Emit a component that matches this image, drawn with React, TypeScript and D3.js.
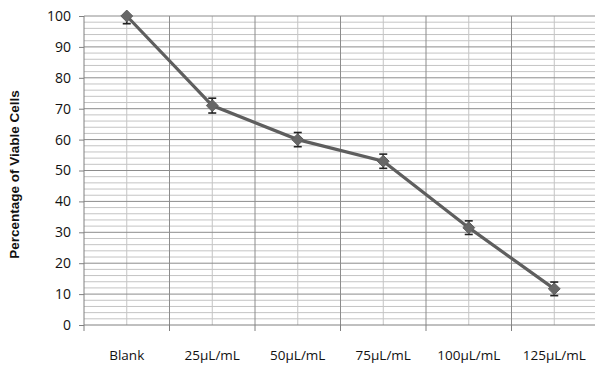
import { useEffect, useRef } from "react";
import * as d3 from "d3";

const categories = ["Blank", "25µL/mL", "50µL/mL", "75µL/mL", "100µL/mL", "125µL/mL"];
const viability = [100, 71, 60, 53, 31.5, 11.7];
const errors = [2.5, 2.4, 2.3, 2.3, 2.2, 2.2];
const yTicks = [0, 10, 20, 30, 40, 50, 60, 70, 80, 90, 100];

const W = 595;
const H = 365;

function buildChart(svgEl: SVGSVGElement) {
  const margin = { top: 16, right: -2, bottom: 40, left: 84 };
  const innerW = W - margin.left - margin.right;
  const innerH = H - margin.top - margin.bottom;

  const svg = d3.select(svgEl);
  svg.selectAll("*").remove();

  const g = svg.append("g").attr("transform", `translate(${margin.left},${margin.top})`);

  const x = d3.scaleBand<string>().domain(categories).range([0, innerW]);
  const y = d3.scaleLinear().domain([0, 100]).range([innerH, 0]);

  // minor horizontal grid (every 2)
  const minor = d3.range(2, 100, 2).filter(v => v % 10 !== 0);
  g.append("g").selectAll("line").data(minor).join("line")
    .attr("x1", 0).attr("x2", innerW)
    .attr("y1", d => y(d)).attr("y2", d => y(d))
    .attr("stroke", "#c4c4c4").attr("stroke-width", 1);

  // minor vertical grid at category centres
  g.append("g").selectAll("line").data(categories).join("line")
    .attr("x1", d => x(d)! + x.bandwidth() / 2).attr("x2", d => x(d)! + x.bandwidth() / 2)
    .attr("y1", 0).attr("y2", innerH)
    .attr("stroke", "#c4c4c4").attr("stroke-width", 1);

  // major horizontal grid
  g.append("g").selectAll("line").data(yTicks.filter(v => v > 0)).join("line")
    .attr("x1", 0).attr("x2", innerW)
    .attr("y1", d => y(d)).attr("y2", d => y(d))
    .attr("stroke", "#8c8c8c").attr("stroke-width", 1);

  // major vertical grid at category boundaries
  g.append("g").selectAll("line").data(categories.slice(1)).join("line")
    .attr("x1", d => x(d)!).attr("x2", d => x(d)!)
    .attr("y1", 0).attr("y2", innerH)
    .attr("stroke", "#8c8c8c").attr("stroke-width", 1);

  // Y axis
  g.append("g")
    .call(d3.axisLeft(y).tickValues(yTicks).tickSize(5).tickPadding(8))
    .call(ax => {
      ax.select(".domain").attr("stroke", "#808080").attr("d", `M0,0V${innerH}`);
      ax.selectAll("line").attr("stroke", "#808080");
      ax.selectAll("text")
        .attr("fill", "#111")
        .style("font-size", "14px")
        .style("font-family", "'Open Sans', sans-serif");
    });

  // X axis
  g.append("g")
    .attr("transform", `translate(0,${innerH})`)
    .call(ax => {
      ax.append("line").attr("x1", 0).attr("x2", innerW).attr("stroke", "#808080");
      ax.selectAll("line.tick").data(categories).join("line")
        .attr("class", "tick")
        .attr("x1", d => x(d)!).attr("x2", d => x(d)!)
        .attr("y1", 0).attr("y2", 6)
        .attr("stroke", "#808080");
      ax.selectAll("text").data(categories).join("text")
        .attr("x", d => x(d)! + x.bandwidth() / 2)
        .attr("y", 35)
        .attr("text-anchor", "middle")
        .attr("fill", "#111")
        .style("font-size", "13.5px")
        .style("font-family", "'Open Sans', sans-serif")
        .text(d => d);
    });

  const pts = categories.map((c, i) => ({ c, v: viability[i], e: errors[i] }));
  const cx = (c: string) => x(c)! + x.bandwidth() / 2;

  // line
  g.append("path")
    .datum(pts)
    .attr("fill", "none")
    .attr("stroke", "#5e5e5e")
    .attr("stroke-width", 3.2)
    .attr("d", d3.line<typeof pts[0]>().x(d => cx(d.c)).y(d => y(d.v)));

  // error bars
  const eb = g.append("g").attr("stroke", "#222").attr("stroke-width", 1.6);
  pts.forEach(p => {
    const top = y(Math.min(100, p.v + p.e));
    const bot = y(p.v - p.e);
    eb.append("line").attr("x1", cx(p.c)).attr("x2", cx(p.c)).attr("y1", top).attr("y2", bot);
    if (p.v + p.e <= 100) {
      eb.append("line").attr("x1", cx(p.c) - 4).attr("x2", cx(p.c) + 4).attr("y1", top).attr("y2", top);
    }
    eb.append("line").attr("x1", cx(p.c) - 4).attr("x2", cx(p.c) + 4).attr("y1", bot).attr("y2", bot);
  });

  // diamond markers
  g.append("g").selectAll("path").data(pts).join("path")
    .attr("transform", d => `translate(${cx(d.c)},${y(d.v)})`)
    .attr("d", d3.symbol(d3.symbolDiamond2, 90)())
    .attr("fill", "#676767")
    .attr("stroke", "#5e5e5e")
    .attr("stroke-width", 1);

  // Y title
  svg.append("text")
    .attr("transform", `translate(19,${margin.top + innerH / 2 + 4}) rotate(-90)`)
    .attr("text-anchor", "middle")
    .attr("fill", "#111")
    .style("font-size", "13.5px")
    .style("font-weight", "bold")
    .style("font-family", "'Liberation Sans', Arial, sans-serif")
    .text("Percentage of Viable Cells");
}

export default function App() {
  const svgRef = useRef<SVGSVGElement>(null);
  useEffect(() => {
    if (svgRef.current) buildChart(svgRef.current);
  }, []);
  return (
    <div style={{ position: "absolute", left: 0, top: 0, width: W, height: H, background: "#fff" }}>
      <svg ref={svgRef} width={W} height={H} style={{ display: "block" }} />
    </div>
  );
}
